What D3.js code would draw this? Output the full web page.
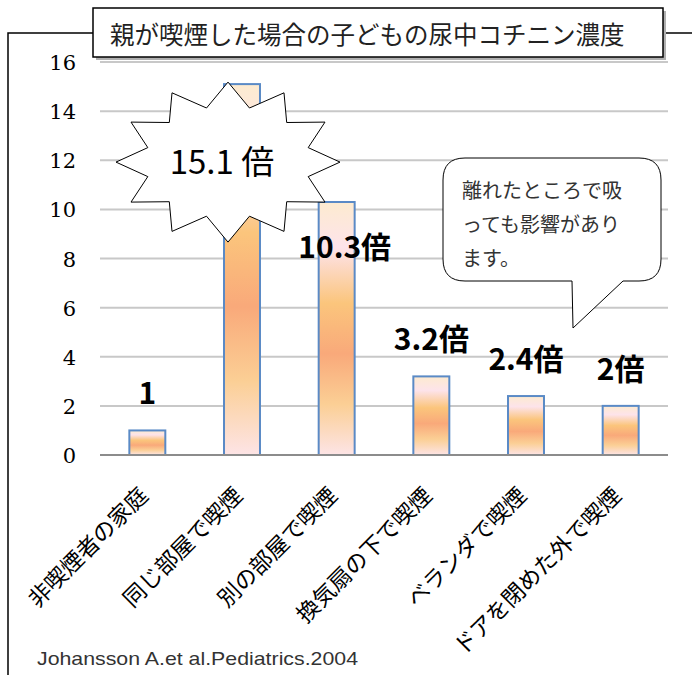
<!DOCTYPE html>
<html>
<head>
<meta charset="utf-8">
<script src="https://cdn.jsdelivr.net/npm/d3@7/dist/d3.min.js"></script>
<style>
  html, body { margin: 0; padding: 0; background: #fff; }
  svg { display: block; }
</style>
</head>
<body>
<svg id="chart" width="692" height="675"></svg>
<script>
const title = "親が喫煙した場合の子どもの尿中コチニン濃度";
const categories = ["非喫煙者の家庭", "同じ部屋で喫煙", "別の部屋で喫煙", "換気扇の下で喫煙", "ベランダで喫煙", "ドアを閉めた外で喫煙"];
const values = [1, 15.1, 10.3, 3.2, 2.4, 2];
const valueLabels = ["1", "15.1 倍", "10.3倍", "3.2倍", "2.4倍", "2倍"];
const yTicks = [0, 2, 4, 6, 8, 10, 12, 14, 16];
const calloutLines = ["離れたところで吸", "っても影響があり", "ます。"];
const citation = "Johansson A.et al.Pediatrics.2004";

const svg = d3.select("#chart");
const jp = "'Noto Sans CJK JP', 'Noto Sans', sans-serif";

// gradient
const defs = svg.append("defs");
const grad = defs.append("linearGradient").attr("id", "barGrad")
  .attr("x1", 0).attr("y1", 0).attr("x2", 0).attr("y2", 1);
[[0, "#fdebd0"], [0.18, "#fde3ea"], [0.4, "#fbc57c"], [0.6, "#f9a97a"], [0.8, "#fbcf95"], [1, "#fde4e6"]]
  .forEach(([o, c]) => grad.append("stop").attr("offset", o).attr("stop-color", c));

// frame
svg.append("path").attr("d", "M8,675 L8,33 L93,33").attr("fill", "none").attr("stroke", "#000").attr("stroke-width", 1.5);
svg.append("path").attr("d", "M663,33 L692,33").attr("fill", "none").attr("stroke", "#000").attr("stroke-width", 1.5);

const x = d3.scaleBand().domain(categories).range([100, 668]).paddingInner(0.62).paddingOuter(0.31);
const y = d3.scaleLinear().domain([0, 16]).range([455, 62]);

// gridlines
svg.append("g").selectAll("line").data(yTicks.filter(d => d > 0)).join("line")
  .attr("x1", 100).attr("x2", 668)
  .attr("y1", d => y(d)).attr("y2", d => y(d))
  .attr("stroke", "#c8c8c8").attr("stroke-width", 2);

// y axis labels
const yAxis = d3.axisLeft(y).tickValues(yTicks).tickSize(0).tickPadding(0).tickFormat(d3.format("d"));
const ya = svg.append("g").attr("transform", "translate(76,0)").call(yAxis);
ya.select(".domain").remove();
ya.selectAll("text").attr("font-family", "'DejaVu Serif', 'Liberation Serif', serif")
  .attr("font-size", 21).attr("fill", "#000").attr("dy", "0.36em");

// bars
svg.append("g").selectAll("rect").data(values).join("rect")
  .attr("x", (d, i) => x(categories[i]))
  .attr("y", d => y(d))
  .attr("width", x.bandwidth())
  .attr("height", d => y(0) - y(d))
  .attr("fill", "url(#barGrad)")
  .attr("stroke", "#5a8ac6").attr("stroke-width", 2);

// baseline
svg.append("line").attr("x1", 100).attr("x2", 668).attr("y1", y(0)).attr("y2", y(0))
  .attr("stroke", "#8c8c8c").attr("stroke-width", 2);

// category labels
svg.append("g").selectAll("text").data(categories).join("text")
  .attr("transform", d => `translate(${x(d) + x.bandwidth() / 2 + 2},497) rotate(-45)`)
  .attr("text-anchor", "end")
  .attr("font-family", jp).attr("font-size", 22.5).attr("fill", "#000")
  .text(d => d);

// starburst annotation around the largest value
const bx = x(categories[1]) + x.bandwidth() / 2 - 14;
const by = y(values[1]) + 78;
const pts = [];
for (let k = 0; k < 24; k++) {
  const a = Math.PI - k * Math.PI / 12;
  const outer = k % 2 === 0;
  const rx = outer ? 112 : 83, ry = outer ? 80 : 56;
  pts.push([bx + rx * Math.cos(a), by - ry * Math.sin(a)]);
}
svg.append("path").attr("d", d3.line()(pts) + "Z")
  .attr("fill", "#fff").attr("stroke", "#000").attr("stroke-width", 1);

// value labels
const labelPos = values.map((v, i) => {
  const cx = x(categories[i]) + x.bandwidth() / 2;
  if (i === 1) return { x: bx - 6, y: by - 2, w: "normal", s: 33 };
  if (i === 2) return { x: cx + 8, y: y(v) + 43, w: "bold", s: 30 };
  return { x: cx, y: y(v) - 39, w: "bold", s: 30 };
});
svg.append("g").selectAll("text").data(valueLabels).join("text")
  .attr("x", (d, i) => labelPos[i].x).attr("y", (d, i) => labelPos[i].y)
  .attr("text-anchor", "middle").attr("dominant-baseline", "central")
  .attr("font-family", jp).attr("font-size", (d, i) => labelPos[i].s)
  .attr("font-weight", (d, i) => labelPos[i].w).attr("fill", "#000")
  .text(d => d);

// callout
const cL = 443, cR = 661, cT = 158, cB = 281, r = 22;
const callPath = `M${cL + r},${cT} H${cR - r} Q${cR},${cT} ${cR},${cT + r} V${cB - r} Q${cR},${cB} ${cR - r},${cB}
  H623 L573,328 L572,${cB} H${cL + r} Q${cL},${cB} ${cL},${cB - r} V${cT + r} Q${cL},${cT} ${cL + r},${cT} Z`;
svg.append("path").attr("d", callPath).attr("fill", "#fff").attr("stroke", "#000").attr("stroke-width", 1);
svg.append("g").selectAll("text").data(calloutLines).join("text")
  .attr("x", 462).attr("y", (d, i) => 189 + i * 34)
  .attr("dominant-baseline", "central")
  .attr("font-family", jp).attr("font-size", 20).attr("fill", "#333")
  .text(d => d);

// title box
svg.append("rect").attr("x", 96).attr("y", 11).attr("width", 570).attr("height", 49).attr("fill", "#b0b0b0");
svg.append("rect").attr("x", 93).attr("y", 8).attr("width", 570).attr("height", 49)
  .attr("fill", "#fff").attr("stroke", "#000").attr("stroke-width", 1.5);
svg.append("text").attr("x", 110).attr("y", 33).attr("dominant-baseline", "central")
  .attr("font-family", jp).attr("font-size", 24.5).attr("fill", "#222")
  .text(title);

// citation
svg.append("text").attr("x", 37).attr("y", 665)
  .attr("font-family", "'Liberation Sans', Arial, sans-serif").attr("font-size", 18.5).attr("fill", "#333")
  .attr("textLength", 321).attr("lengthAdjust", "spacingAndGlyphs")
  .text(citation);
</script>
</body>
</html>
